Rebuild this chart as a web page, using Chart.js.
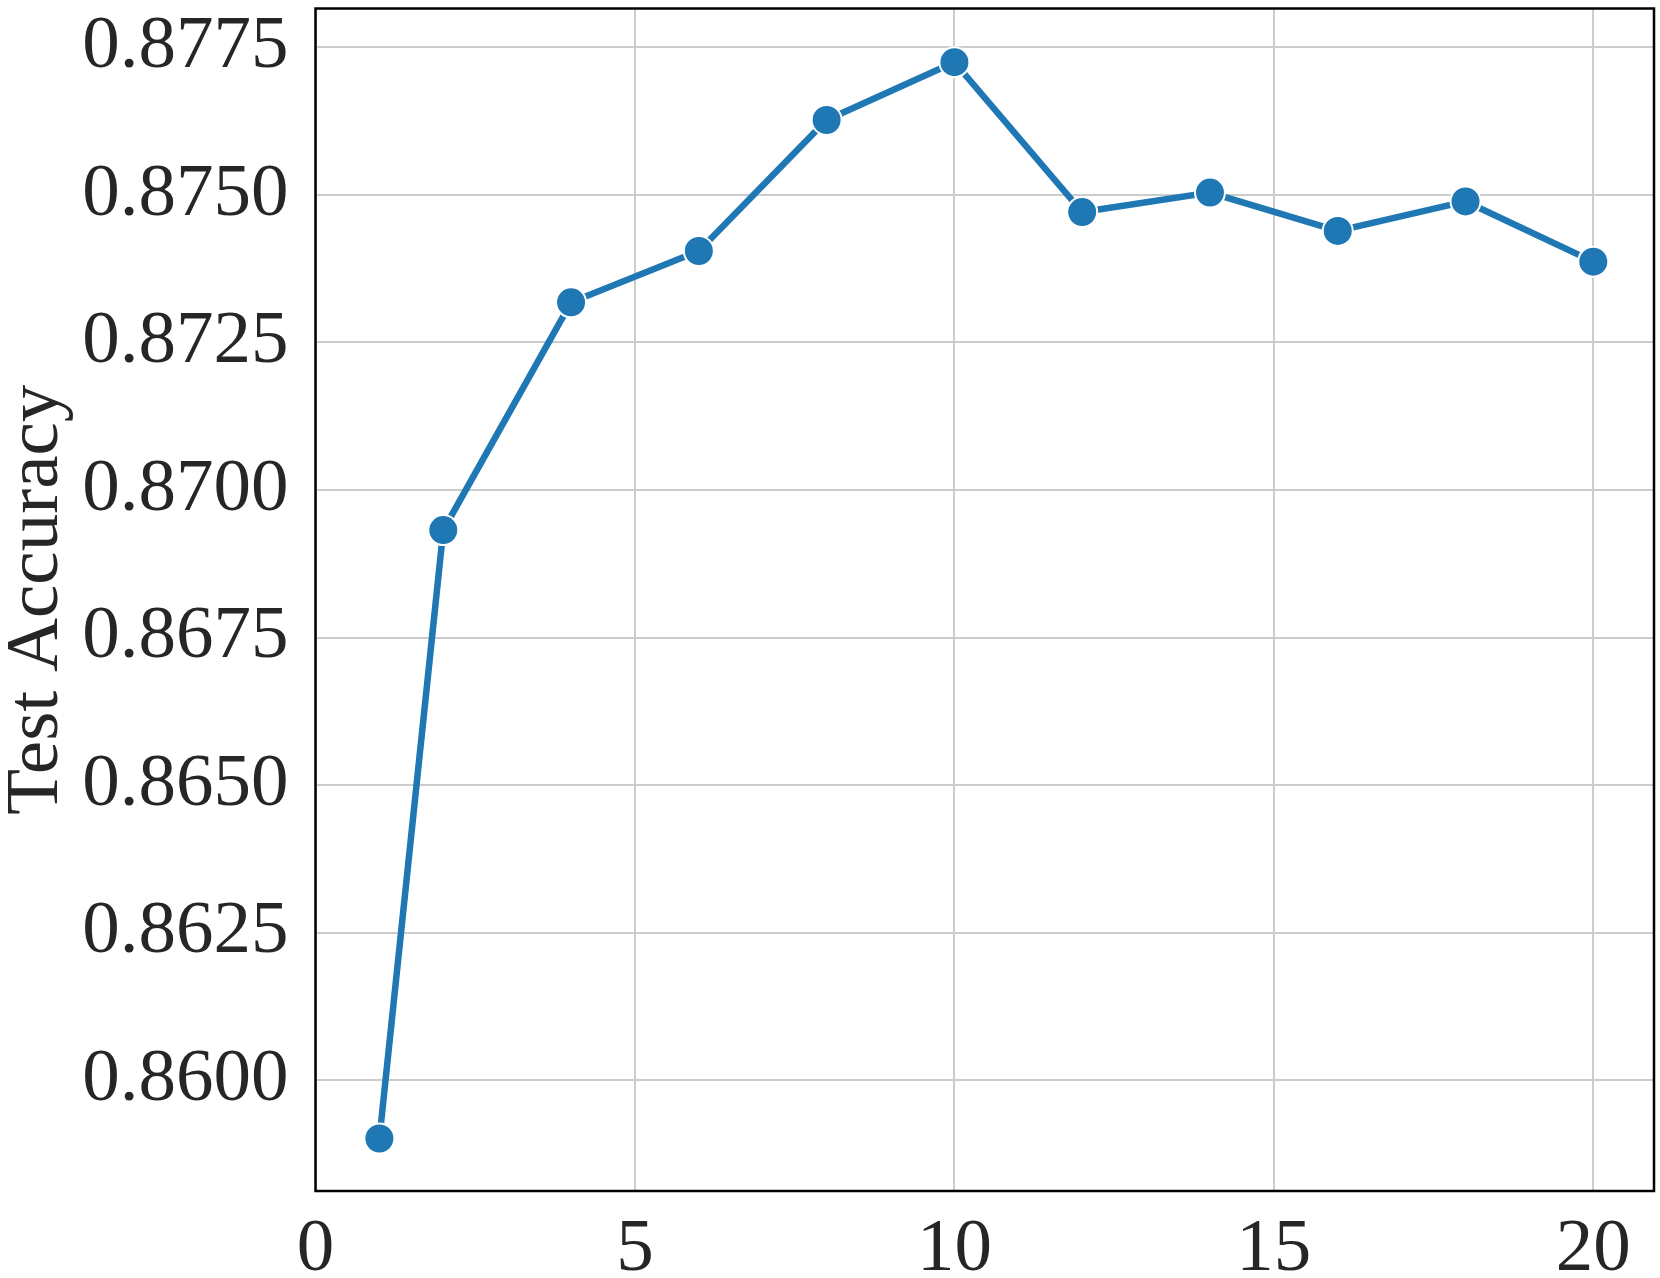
<!DOCTYPE html>
<html>
<head>
<meta charset="utf-8">
<script src="https://cdn.jsdelivr.net/npm/chart.js@4.4.0/dist/chart.umd.min.js"></script>
<style>
  html, body { margin: 0; padding: 0; background: #fff; }
  #wrap { width: 1660px; height: 1278px; }
</style>
</head>
<body>
<div id="wrap"><canvas id="chartAcc" width="1660" height="1278"></canvas></div>
<script>
// values
const epochs = [1, 2, 4, 6, 8, 10, 12, 14, 16, 18, 20];
const accuracy = [0.85901, 0.86932, 0.87318, 0.87405, 0.87627, 0.87725, 0.87471, 0.87504, 0.87439, 0.87489, 0.87387];
const xTicks = [0, 5, 10, 15, 20];
const yTicks = [0.8600, 0.8625, 0.8650, 0.8675, 0.8700, 0.8725, 0.8750, 0.8775];

const FONT = "'Liberation Serif', 'Times New Roman', serif";
const TEXT = "#262626";
const BLUE = "#1f77b4";

// black frame around the plot area
const frame = {
  id: "frame",
  afterDraw(chart) {
    const { ctx, chartArea: a } = chart;
    ctx.save();
    ctx.strokeStyle = "#000";
    ctx.lineWidth = 2.5;
    ctx.strokeRect(a.left, a.top, a.right - a.left, a.bottom - a.top);
    ctx.restore();
  }
};

const ctx = document.getElementById("chartAcc");
new Chart(ctx, {
  type: "line",
  data: {
    datasets: [{
      data: epochs.map((e, i) => ({ x: e, y: accuracy[i] })),
      borderColor: BLUE,
      borderWidth: 6.5,
      backgroundColor: BLUE,
      pointBackgroundColor: BLUE,
      pointBorderColor: "#fff",
      pointBorderWidth: 2,
      pointRadius: 15,
      tension: 0,
      clip: false
    }]
  },
  plugins: [frame],
  options: {
    responsive: false,
    animation: false,
    layout: { autoPadding: false, padding: { top: 8.5, right: 6, left: 0, bottom: 0 } },
    plugins: { legend: { display: false }, tooltip: { enabled: false } },
    scales: {
      x: {
        type: "linear",
        min: 0,
        max: 20.95,
        afterBuildTicks: s => { s.ticks = xTicks.map(v => ({ value: v })); },
        afterFit: s => { s.height = 87; s.paddingLeft = 0; s.paddingRight = 0; },
        grid: { color: "#cccccc", lineWidth: 2, drawTicks: false },
        border: { display: false },
        ticks: {
          padding: 14,
          color: TEXT,
          font: { family: FONT, size: 75 },
          maxRotation: 0
        }
      },
      y: {
        min: 0.85812,
        max: 0.87816,
        afterBuildTicks: s => { s.ticks = yTicks.map(v => ({ value: v })); },
        afterFit: s => { s.width = 315.5; s.paddingTop = 0; s.paddingBottom = 0; },
        grid: { color: "#cccccc", lineWidth: 2, drawTicks: false },
        border: { display: false },
        ticks: {
          padding: 27,
          color: TEXT,
          font: { family: FONT, size: 75 },
          callback: v => v.toFixed(4)
        },
        title: {
          display: true,
          text: "Test Accuracy",
          color: TEXT,
          font: { family: FONT, size: 75, lineHeight: 1 },
          padding: 0
        }
      }
    }
  }
});
</script>
</body>
</html>
